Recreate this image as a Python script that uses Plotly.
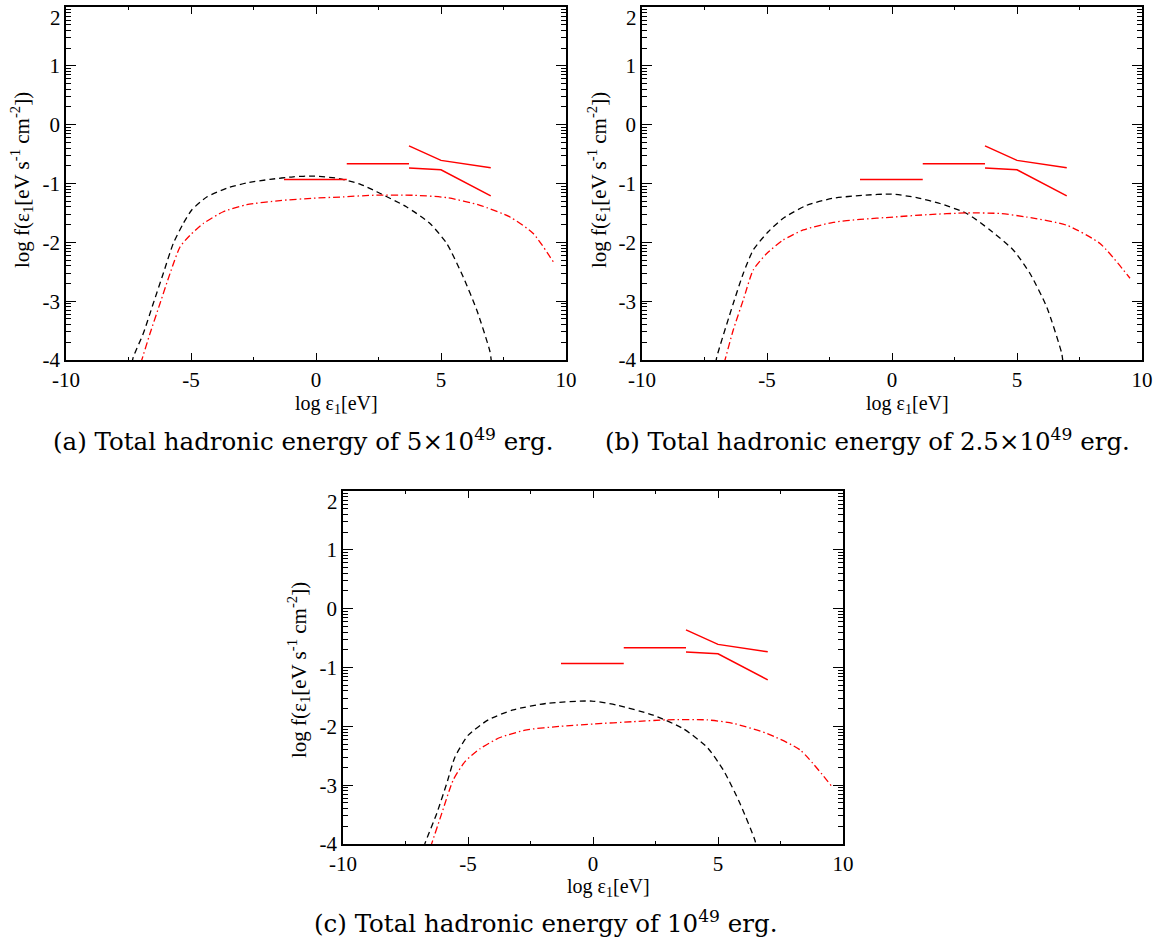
import numpy as np
import plotly.graph_objects as go

# ---------------------------------------------------------------
# Spectra (log eps_1 [eV], log f [eV s^-1 cm^-2]) for three total
# hadronic energies.  "cut" = dashed black, "pp" = red dash-dot.
# ---------------------------------------------------------------
# (a) 5e49 erg
a_cut_x = [-7.36, -7.31, -6.91, -6.51, -6.11, -5.71, -5.31, -4.97, -4.37, -3.57,
           -2.77, -1.84, -0.91, -0.11, 0.83, 1.76, 2.43, 3.63, 4.56, 5.23,
           5.89, 6.43, 6.96, 7.02]
a_cut_y = [-4.05, -3.95, -3.55, -3.04, -2.53, -2.02, -1.68, -1.45, -1.23, -1.08,
           -0.99, -0.93, -0.886, -0.874, -0.91, -1.01, -1.14, -1.40, -1.68, -2.02,
           -2.59, -3.15, -3.86, -4.05]
a_pp_x = [-7.01, -6.97, -6.64, -6.24, -5.84, -5.44, -5.04, -4.51, -3.71, -2.77,
          -1.44, -0.11, 0.96, 2.29, 3.89, 5.23, 6.56, 7.76, 8.69, 9.49]
a_pp_y = [-4.05, -4.0, -3.55, -3.04, -2.53, -2.08, -1.88, -1.68, -1.48, -1.36,
          -1.29, -1.25, -1.23, -1.20, -1.20, -1.24, -1.37, -1.57, -1.85, -2.33]

# (b) 2.5e49 erg
b_cut_x = [-7.05, -7.01, -6.35, -5.95, -5.55, -4.95, -4.35, -3.41, -2.35, -1.15,
           -0.01, 0.99, 1.92, 2.99, 3.92, 4.85, 5.52, 6.19, 6.79, 6.84]
b_cut_y = [-4.05, -3.95, -3.04, -2.53, -2.13, -1.82, -1.59, -1.37, -1.25, -1.20,
           -1.18, -1.24, -1.34, -1.51, -1.79, -2.13, -2.53, -3.10, -3.89, -4.05]
b_pp_x = [-6.71, -6.68, -6.35, -5.95, -5.55, -5.01, -4.35, -3.55, -2.35, -1.28,
          0.05, 1.39, 2.99, 4.32, 5.39, 6.99, 8.32, 9.52]
b_pp_y = [-4.05, -4.0, -3.49, -2.98, -2.47, -2.19, -1.96, -1.79, -1.66, -1.61,
          -1.57, -1.53, -1.50, -1.51, -1.57, -1.71, -2.02, -2.61]

# (c) 1e49 erg
c_cut_x = [-6.76, -6.72, -6.25, -5.85, -5.52, -4.99, -4.19, -3.19, -1.85, -0.05,
           0.95, 2.41, 3.61, 4.55, 5.21, 5.88, 6.48, 6.53]
c_cut_y = [-4.05, -3.99, -3.48, -2.97, -2.52, -2.15, -1.89, -1.72, -1.61, -1.57,
           -1.64, -1.81, -2.04, -2.35, -2.74, -3.31, -3.94, -4.05]
c_pp_x = [-6.50, -6.45, -6.05, -5.59, -5.12, -4.52, -3.72, -2.65, -1.32, 0.01,
          1.61, 2.95, 4.55, 5.61, 6.95, 8.28, 9.55]
c_pp_y = [-4.05, -3.99, -3.48, -2.91, -2.60, -2.38, -2.19, -2.06, -2.00, -1.96,
          -1.92, -1.89, -1.89, -1.95, -2.12, -2.40, -3.02]

# Observational limits (same in every panel)
obs1_x = [-1.28, 1.23]
obs1_y = [-0.93, -0.93]
obs2_x = [1.23, 3.72]
obs2_y = [-0.665, -0.665]
bow_hi_x = [3.72, 5.00, 6.99]
bow_hi_y = [-0.36, -0.607, -0.733]
bow_lo_x = [3.72, 5.00, 6.99]
bow_lo_y = [-0.738, -0.767, -1.21]

captions = [
    "(a) Total hadronic energy of 5×10<sup>49</sup> erg.",
    "(b) Total hadronic energy of 2.5×10<sup>49</sup> erg.",
    "(c) Total hadronic energy of 10<sup>49</sup> erg.",
]

x_tick_vals = [-10, -5, 0, 5, 10]
x_tick_text = ["-10", "-5", "0", "5", "10"]
y_tick_vals = [2, 1, 0, -1, -2, -3, -4]
y_tick_text = ["2", "1", "0", "-1", "-2", "-3", "-4"]

y_title = "log f(ε<sub>1</sub>[eV s<sup>-1</sup> cm<sup>-2</sup>])"
x_title = "log ε<sub>1</sub>[eV]"

# ---------------------------------------------------------------
W, H = 1166, 942
# panel boxes in pixels: (left, right, top, bottom)
boxes = [(66, 566, 7, 360), (642, 1142, 7, 360), (343, 843, 491, 844)]
ytitle_pos = [(22, 180), (599, 180), (298, 670)]
xtitle_pos = [(336, 404), (907, 404), (609, 887)]
caption_pos = [(303, 440), (867, 440), (545, 922)]

series = [
    (a_cut_x, a_cut_y, a_pp_x, a_pp_y),
    (b_cut_x, b_cut_y, b_pp_x, b_pp_y),
    (c_cut_x, c_cut_y, c_pp_x, c_pp_y),
]

RED = "#ff0000"
SERIF = "Liberation Serif"
CAPTION_FONT = "DejaVu Serif"
TICK_SIZE = 21

# log-style minor ticks between integer majors on the y axis
y_minor = []
for m in range(2, -4, -1):
    for k in range(2, 10):
        y_minor.append(m - 1 + np.log10(k))

fig = go.Figure()

for i, (cx, cy, px, py) in enumerate(series):
    suffix = "" if i == 0 else str(i + 1)
    xr, yr = "x" + suffix, "y" + suffix
    fig.add_trace(go.Scatter(x=cx, y=cy, mode="lines", xaxis=xr, yaxis=yr,
                             line=dict(color="black", width=1.3, dash="6px,4px",
                                       shape="spline", smoothing=0.6),
                             showlegend=False, hoverinfo="skip"))
    fig.add_trace(go.Scatter(x=px, y=py, mode="lines", xaxis=xr, yaxis=yr,
                             line=dict(color=RED, width=1.3, dash="7px,3px,1.5px,3px",
                                       shape="spline", smoothing=0.6),
                             showlegend=False, hoverinfo="skip"))
    for ox, oy in [(obs1_x, obs1_y), (obs2_x, obs2_y),
                   (bow_hi_x, bow_hi_y), (bow_lo_x, bow_lo_y)]:
        fig.add_trace(go.Scatter(x=ox, y=oy, mode="lines", xaxis=xr, yaxis=yr,
                                 line=dict(color=RED, width=1.5),
                                 showlegend=False, hoverinfo="skip"))

    l, r, t, b = boxes[i]
    axis_common = dict(
        showgrid=False, zeroline=False, showline=True, linecolor="black",
        linewidth=1.6, mirror="ticks", ticks="inside", tickcolor="black",
        tickwidth=1.2, tickfont=dict(family=SERIF, size=TICK_SIZE, color="black"),
        automargin=False, ticklabeloverflow="allow",
    )
    fig.layout["xaxis" + suffix] = dict(
        axis_common, domain=[l / W, r / W], range=[-10, 10],
        anchor="y" + suffix, tickmode="array", tickvals=x_tick_vals,
        ticktext=x_tick_text, ticklen=7,
        minor=dict(tickmode="linear", tick0=-10, dtick=2.5, ticklen=3.5,
                   tickwidth=1.2, tickcolor="black", ticks="inside"),
    )
    # the topmost label sits just below its tick so it stays on the page
    y_text = list(y_tick_text)
    top_label = y_text[0]
    y_text[0] = ""
    fig.layout["yaxis" + suffix] = dict(
        axis_common, domain=[1 - b / H, 1 - t / H], range=[-4, 2],
        anchor="x" + suffix, tickmode="array", tickvals=y_tick_vals,
        ticktext=y_text, ticklen=10,
        minor=dict(tickmode="array", tickvals=y_minor, ticklen=5,
                   tickwidth=1.0, tickcolor="black", ticks="inside"),
    )
    fig.add_annotation(x=(l - 3) / W, xref="paper", xanchor="right",
                       y=y_tick_vals[0], yref=yr, yanchor="top", yshift=3,
                       text=top_label, showarrow=False,
                       font=dict(family=SERIF, size=TICK_SIZE, color="black"))

    yx, yy = ytitle_pos[i]
    fig.add_annotation(x=yx / W, y=1 - yy / H, xref="paper", yref="paper",
                       xanchor="center", yanchor="middle",
                       text=y_title, textangle=-90, showarrow=False,
                       font=dict(family=SERIF, size=21, color="black"))
    tx, ty = xtitle_pos[i]
    fig.add_annotation(x=tx / W, y=1 - ty / H, xref="paper", yref="paper",
                       xanchor="center", yanchor="middle",
                       text=x_title, showarrow=False,
                       font=dict(family=SERIF, size=20, color="black"))
    cx_, cy_ = caption_pos[i]
    fig.add_annotation(x=cx_ / W, y=1 - cy_ / H, xref="paper", yref="paper",
                       xanchor="center", yanchor="middle",
                       text=captions[i], showarrow=False,
                       font=dict(family=CAPTION_FONT, size=24.5, color="black"))

fig.update_layout(
    width=W, height=H, margin=dict(l=0, r=0, t=0, b=0),
    paper_bgcolor="white", plot_bgcolor="white", showlegend=False,
    font=dict(family=SERIF, color="black"),
)

fig.write_html("out.html")
